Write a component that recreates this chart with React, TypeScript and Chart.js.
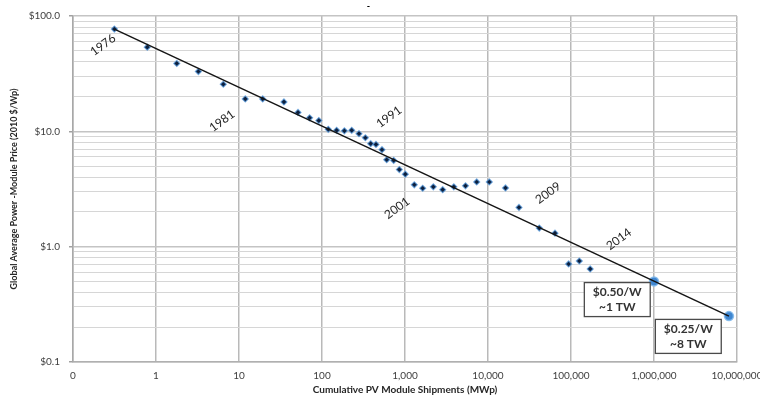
import React, { useEffect, useRef } from "react";
import { Chart, registerables } from "chart.js";

Chart.register(...registerables);

// Historical module prices (2010 $/Wp) vs cumulative shipments (MWp)
const SHIPMENTS_MWP = [
  0.315, 0.785, 1.78, 3.24, 6.47, 11.9, 19.3, 34.8, 51.4, 70.9, 91.5, 119, 150,
  186, 228, 279, 333, 386, 447, 528, 602, 731, 854, 1009, 1294, 1634, 2193,
  2845, 3873, 5356, 7311, 10370, 16250, 23620, 41500, 64150, 93600, 126000,
  170400,
];
const PRICE_USD = [
  77.0, 53.7, 38.8, 33.0, 25.6, 19.1, 19.1, 18.0, 14.6, 13.1, 12.4, 10.4, 10.2,
  10.1, 10.2, 9.55, 8.8, 7.82, 7.7, 6.93, 5.67, 5.6, 4.66, 4.25, 3.44, 3.21,
  3.3, 3.12, 3.3, 3.37, 3.64, 3.64, 3.23, 2.19, 1.45, 1.31, 0.708, 0.751, 0.641,
];

// Experience-curve trend line
const TREND_SHIPMENTS = [0.315, 8000000];
const TREND_PRICE = [77.0, 0.25];

// Projected targets
const TARGET_SHIPMENTS = [1000000, 8000000];
const TARGET_PRICE = [0.5, 0.25];

// Year annotations (anchored in data space)
const YEAR_LABELS = ["1976", "1981", "1991", "2001", "2009", "2014"];
const YEAR_LABEL_X = [0.23, 6.24, 641, 801, 52800, 378000];
const YEAR_LABEL_Y = [56.0, 12.3, 13.3, 2.16, 2.92, 1.16];

// Callout boxes
const BOX_LINES = [
  ["$0.50/W", "~1 TW"],
  ["$0.25/W", "~8 TW"],
];
const BOX_X = [361000, 2590000];
const BOX_Y = [0.3477, 0.1667];

// Axis ticks
const X_TICKS = [0.1, 1, 10, 100, 1000, 10000, 100000, 1000000, 10000000];
const X_TICK_LABELS = ["0", "1", "10", "100", "1,000", "10,000", "100,000", "1,000,000", "10,000,000"];
const Y_TICKS = [0.1, 1, 10, 100];
const Y_TICK_LABELS = ["$0.1", "$1.0", "$10.0", "$100.0"];

const FONT = "Lato, 'Open Sans', sans-serif";

const isDecade = (v: number) => {
  const l = Math.log10(v);
  return Math.abs(l - Math.round(l)) < 1e-9;
};

const annotationPlugin = {
  id: "annotations",
  afterDatasetsDraw(chart: any) {
    const { ctx, scales } = chart;
    const x = scales.x;
    const y = scales.y;
    ctx.save();
    ctx.fillStyle = "#262626";
    ctx.font = `12px ${FONT}`;
    ctx.textAlign = "center";
    ctx.textBaseline = "middle";
    YEAR_LABELS.forEach((t, i) => {
      const px = x.getPixelForValue(YEAR_LABEL_X[i]);
      const py = y.getPixelForValue(YEAR_LABEL_Y[i]);
      ctx.save();
      ctx.translate(px, py);
      ctx.rotate((-36 * Math.PI) / 180);
      ctx.fillText(t, 0, 0);
      ctx.restore();
    });

    ctx.font = `bold 12px ${FONT}`;
    const lineGap = 15;
    BOX_LINES.forEach((lines, i) => {
      const cx = x.getPixelForValue(BOX_X[i]);
      const cy = y.getPixelForValue(BOX_Y[i]);
      const tw = Math.max(...lines.map((l) => ctx.measureText(l).width));
      const w = tw + 17;
      const h = lines.length * lineGap + 4;
      ctx.fillStyle = "#ffffff";
      ctx.fillRect(cx - w / 2, cy - h / 2, w, h);
      ctx.strokeStyle = "#4a4a4a";
      ctx.lineWidth = 1.3;
      ctx.strokeRect(cx - w / 2, cy - h / 2, w, h);
      ctx.fillStyle = "#333333";
      lines.forEach((l, j) => {
        ctx.fillText(l, cx, cy + (j - (lines.length - 1) / 2) * lineGap);
      });
    });
    ctx.restore();
  },
};

export default function App() {
  const ref = useRef<HTMLCanvasElement | null>(null);

  useEffect(() => {
    if (!ref.current) return;
    const history = SHIPMENTS_MWP.map((s, i) => ({ x: s, y: PRICE_USD[i] }));
    const trend = TREND_SHIPMENTS.map((s, i) => ({ x: s, y: TREND_PRICE[i] }));
    const targets = TARGET_SHIPMENTS.map((s, i) => ({ x: s, y: TARGET_PRICE[i] }));

    const chart = new Chart(ref.current, {
      type: "scatter",
      data: {
        datasets: [
          {
            type: "line",
            label: "Trend",
            data: trend,
            borderColor: "#151515",
            borderWidth: 1.5,
            pointRadius: 0,
            fill: false,
            order: 0,
          } as any,
          {
            label: "Targets",
            data: targets,
            pointRadius: 4.5,
            pointBackgroundColor: "#3f86d0",
            pointBorderColor: "rgba(130,185,235,0.9)",
            pointBorderWidth: 1.5,
            order: 1,
          },
          {
            label: "History",
            data: history,
            pointStyle: "rectRot",
            pointRadius: 3,
            pointBackgroundColor: "#0d1f3c",
            pointBorderColor: "rgba(80,150,220,0.7)",
            pointBorderWidth: 1.2,
            order: 2,
          },
        ],
      },
      options: {
        animation: false,
        responsive: false,
        maintainAspectRatio: false,
        devicePixelRatio: 1,
        layout: { padding: { left: 0, right: 23, top: 0, bottom: 0 } },
        plugins: {
          legend: { display: false },
          tooltip: { enabled: false },
          title: {
            display: true,
            text: "-",
            color: "#000",
            font: { size: 9, weight: "bold", lineHeight: 1, family: FONT },
            padding: { top: 2, bottom: 5 },
          },
        },
        scales: {
          x: {
            type: "logarithmic",
            position: "bottom",
            min: 0.1,
            max: 10000000,
            afterBuildTicks: (scale: any) => {
              scale.ticks = X_TICKS.map((v) => ({ value: v, major: true }));
            },
            afterFit: (scale: any) => {
              scale.height = 34;
              scale.paddingLeft = 0;
              scale.paddingRight = 0;
            },
            ticks: {
              autoSkip: false,
              maxRotation: 0,
              minRotation: 0,
              padding: 8,
              color: "#404040",
              font: { size: 10, family: FONT },
              callback: (v: any) => {
                const idx = X_TICKS.findIndex((t) => Math.abs(t - Number(v)) / t < 1e-6);
                return idx >= 0 ? X_TICK_LABELS[idx] : "";
              },
            },
            grid: {
              color: "#b9b9b9",
              lineWidth: 1.5,
              drawTicks: false,
            },
            border: { display: true, color: "#b0b0b0", width: 1.5 },
            title: {
              display: true,
              text: "Cumulative PV Module Shipments (MWp)",
              color: "#262626",
              font: { size: 10, weight: "bold", family: FONT },
              padding: { top: 0, bottom: 0 },
            },
          },
          y: {
            type: "logarithmic",
            position: "left",
            min: 0.1,
            max: 100,
            afterBuildTicks: (scale: any) => {
              const ticks: any[] = [];
              Y_TICKS.forEach((d, i) => {
                ticks.push({ value: d, major: true });
                if (i < Y_TICKS.length - 1) {
                  for (let m = 2; m <= 9; m++) ticks.push({ value: d * m, major: false });
                }
              });
              scale.ticks = ticks;
            },
            afterFit: (scale: any) => {
              scale.width = 73;
              scale.paddingTop = 0;
              scale.paddingBottom = 0;
            },
            ticks: {
              autoSkip: false,
              padding: 9,
              color: "#404040",
              font: { size: 10, family: FONT },
              callback: (v: any) => {
                const idx = Y_TICKS.findIndex((t) => Math.abs(t - Number(v)) / t < 1e-6);
                return idx >= 0 ? Y_TICK_LABELS[idx] : "";
              },
            },
            grid: {
              color: (c: any) => (c.tick && isDecade(c.tick.value) ? "#c4c4c4" : "#d6d6d6"),
              lineWidth: (c: any) => (c.tick && isDecade(c.tick.value) ? 1.5 : 1),
              drawTicks: true,
              tickLength: 4,
              tickColor: (c: any) => (c.tick && isDecade(c.tick.value) ? "#a0a0a0" : "rgba(0,0,0,0)"),
            },
            border: { display: true, color: "#a8a8a8", width: 1.5 },
            title: {
              display: true,
              text: "Global Average Power -Module Price (2010 $/Wp)",
              color: "#262626",
              font: { size: 9, weight: "bold", family: FONT },
              padding: { top: 9, bottom: 0 },
            },
          },
        },
      },
      plugins: [annotationPlugin],
    } as any);

    return () => chart.destroy();
  }, []);

  return (
    <div style={{ position: "fixed", left: 0, top: 0, width: 760, height: 396, background: "#fff" }}>
      <canvas ref={ref} width={760} height={396} style={{ display: "block" }} />
    </div>
  );
}
